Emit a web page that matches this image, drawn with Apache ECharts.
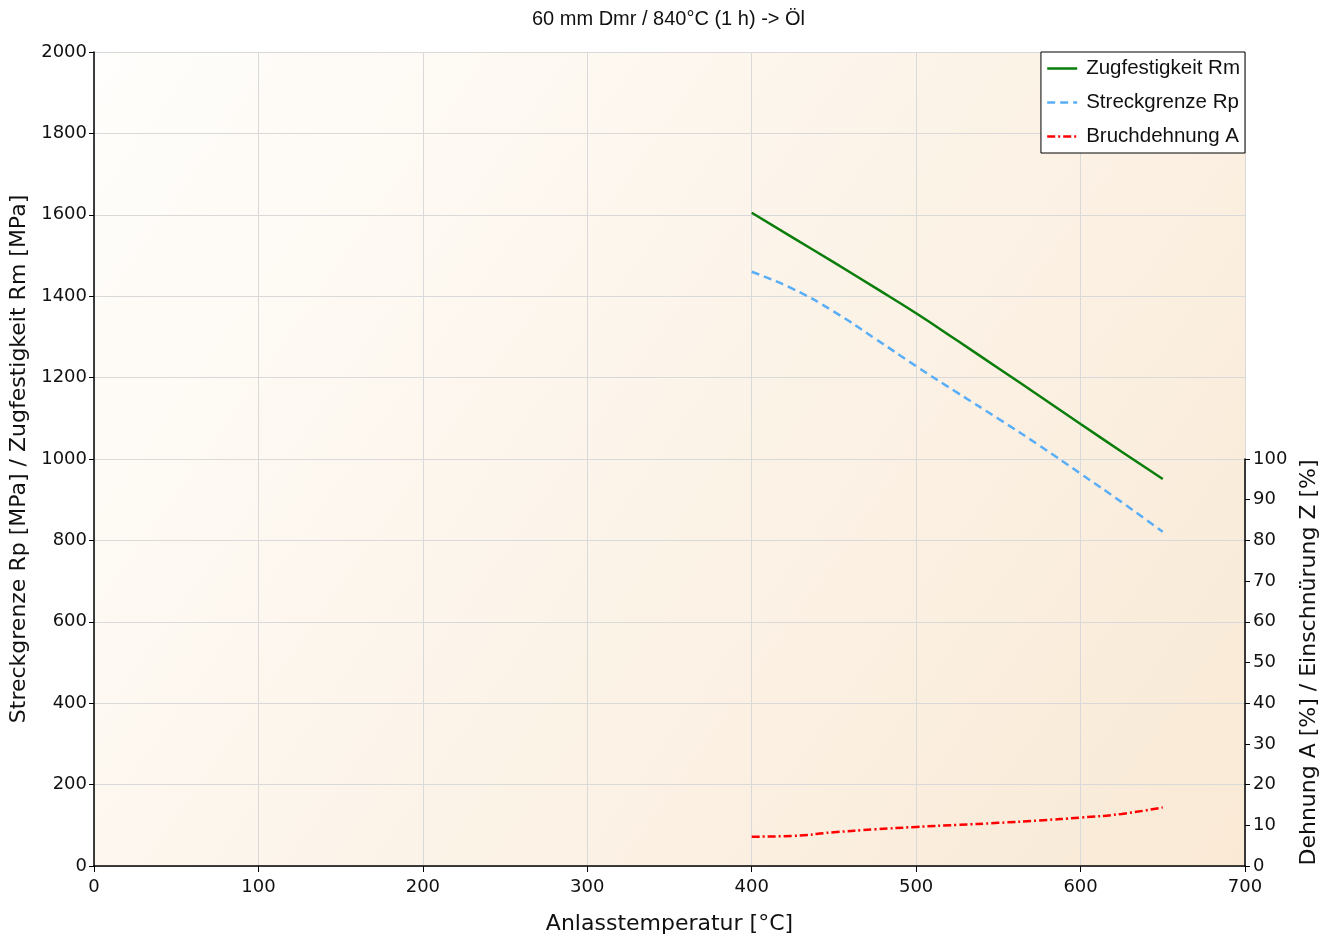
<!DOCTYPE html>
<html>
<head>
<meta charset="utf-8">
<title>Anlassschaubild</title>
<script src="https://cdn.jsdelivr.net/npm/echarts@6/dist/echarts.min.js"></script>
<style>
  html, body { margin: 0; padding: 0; background: #fff; }
  #chart { width: 1337px; height: 940px; }
</style>
</head>
<body>
<div id="chart"></div>
<script>
// Anlasstemperatur [°C]
const temps = [400, 425, 450, 475, 500, 525, 550, 575, 600, 625, 650]
// Zugfestigkeit Rm [MPa]
const rm = [1605, 1544, 1483, 1421, 1358, 1291, 1223, 1155, 1086, 1018, 951]
// Streckgrenze Rp [MPa]
const rp = [1460, 1418, 1362, 1296, 1228, 1163, 1099, 1033, 964, 894, 821]
// Bruchdehnung A [%]
const bruchA = [7.2, 7.4, 8.3, 9.0, 9.6, 10.1, 10.6, 11.2, 11.9, 12.8, 14.4]

const pairs = (xs, ys) => xs.map((x, i) => [x, ys[i]])

const axisFont = { fontFamily: 'DejaVu Sans', fontSize: 18, color: '#111' }
const nameFont = { fontFamily: 'DejaVu Sans', fontSize: 22, color: '#111' }
const plain = v => String(v)

const chart = echarts.init(document.getElementById('chart'))

chart.setOption({
    backgroundColor: '#fff',
    animation: false,
    title: {
        text: '60 mm Dmr / 840°C (1 h) -> Öl',
        left: 'center',
        top: 4,
        textStyle: { fontFamily: 'Liberation Sans', fontSize: 20, fontWeight: 'normal', color: '#111' }
    },
    legend: {
        right: 92,
        top: 52,
        orient: 'vertical',
        backgroundColor: '#fff',
        borderColor: '#000',
        borderWidth: 1,
        borderRadius: 0,
        padding: [6, 5, 6, 5],
        itemGap: 13,
        itemWidth: 30,
        itemHeight: 14,
        itemStyle: { opacity: 0 },
        lineStyle: { width: 2.5 },
        textStyle: { fontFamily: 'Liberation Sans', fontSize: 20.5, color: '#111', padding: [0, 0, 0, 4] },
        data: ['Zugfestigkeit Rm', 'Streckgrenze Rp', 'Bruchdehnung A']
    },
    grid: [
        {
            left: 94, right: 92, top: 52, bottom: 74,
            show: true,
            borderWidth: 0,
            backgroundColor: new echarts.graphic.LinearGradient(0, 0, 1, 1, [
                { offset: 0, color: '#fffefc' },
                { offset: 1, color: '#f9e9d5' }
            ])
        },
        { left: 94, right: 92, top: 459, bottom: 74 }
    ],
    xAxis: [
        {
            gridIndex: 0,
            type: 'value',
            min: 0, max: 700, interval: 100,
            name: 'Anlasstemperatur [°C]',
            nameLocation: 'middle',
            nameGap: 47,
            nameTextStyle: nameFont,
            axisLine: { show: true, onZero: false, lineStyle: { color: '#000', width: 1.5 } },
            axisTick: { show: true, length: 6, lineStyle: { color: '#000' } },
            axisLabel: Object.assign({ margin: 12, formatter: plain }, axisFont),
            splitLine: { show: true, lineStyle: { color: '#d9d9d9', width: 1 } }
        },
        {
            gridIndex: 1,
            type: 'value',
            min: 0, max: 700,
            show: false
        }
    ],
    yAxis: [
        {
            gridIndex: 0,
            type: 'value',
            min: 0, max: 2000, interval: 200,
            name: 'Streckgrenze Rp [MPa] / Zugfestigkeit Rm [MPa]',
            nameLocation: 'middle',
            nameGap: 62,
            nameTextStyle: nameFont,
            axisLine: { show: true, onZero: false, lineStyle: { color: '#000', width: 1.5 } },
            axisTick: { show: true, length: 5, lineStyle: { color: '#000' } },
            axisLabel: Object.assign({ margin: 7, formatter: plain }, axisFont),
            splitLine: { show: true, lineStyle: { color: '#d9d9d9', width: 1 } }
        },
        {
            gridIndex: 1,
            type: 'value',
            position: 'right',
            min: 0, max: 100, interval: 10,
            name: 'Dehnung A [%] / Einschnürung Z [%]',
            nameLocation: 'middle',
            nameGap: 53,
            nameRotate: 90,
            nameTextStyle: nameFont,
            axisLine: { show: true, onZero: false, lineStyle: { color: '#000', width: 1.5 } },
            axisTick: { show: true, length: 5, lineStyle: { color: '#000' } },
            axisLabel: Object.assign({ margin: 8, formatter: plain }, axisFont),
            splitLine: { show: false }
        }
    ],
    series: [
        {
            name: 'Zugfestigkeit Rm',
            type: 'line',
            xAxisIndex: 0, yAxisIndex: 0,
            smooth: 0.5,
            symbol: 'none',
            color: '#0a7d0a',
            lineStyle: { width: 2.5, color: '#0a7d0a' },
            data: pairs(temps, rm)
        },
        {
            name: 'Streckgrenze Rp',
            type: 'line',
            xAxisIndex: 0, yAxisIndex: 0,
            smooth: 0.5,
            symbol: 'none',
            color: '#5aaef7',
            lineStyle: { width: 2.5, color: '#5aaef7', type: [8, 5] },
            data: pairs(temps, rp)
        },
        {
            name: 'Bruchdehnung A',
            type: 'line',
            xAxisIndex: 1, yAxisIndex: 1,
            smooth: 0.5,
            symbol: 'none',
            color: '#ff0000',
            lineStyle: { width: 2.5, color: '#ff0000', type: [8, 3, 2, 3] },
            data: pairs(temps, bruchA)
        }
    ]
})
</script>
</body>
</html>
